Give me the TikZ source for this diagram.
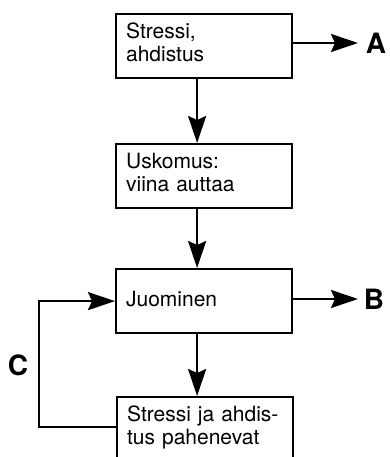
\documentclass[tikz,border=0pt]{standalone}
\usepackage{fontspec}
\setmainfont{TeX Gyre Heros}
\usetikzlibrary{arrows.meta}
\newcommand\boxfont{\fontsize{21pt}{23pt}\selectfont}
\newcommand\labfont{\fontsize{28pt}{30pt}\selectfont\bfseries}
\begin{document}
\begin{tikzpicture}[x=1pt,y=-1pt,
  box/.style={draw, line width=2.2pt, minimum width=176pt, minimum height=64pt,
    text width=156pt, inner xsep=10pt, inner ysep=0pt, align=left,
    text depth=31pt, font=\boxfont, anchor=north west},
  onebox/.style={box, text depth=5pt},
  conn/.style={line width=2.5pt, -{Stealth[length=27pt,width=18pt,inset=4pt]}},
  lab/.style={font=\labfont, inner sep=0pt}]
\useasboundingbox (0,0) rectangle (389,457);
\node[box] (b1) at (115,13) {Stressi,\\ahdistus};
\node[box] (b2) at (115,143) {Uskomus:\\viina auttaa};
\node[onebox] (b3) at (115,268) {Juominen};
\node[box] (b4) at (116,396) {Stressi ja ahdis-\\tus pahenevat};
\node[lab] (A) at (376,43) {A};
\node[lab] (B) at (374,299) {B};
\node[lab] (C) at (18,365) {C};
\coordinate (tA) at (358,43);
\coordinate (tB) at (358,299);
\coordinate (cl) at (39,360);
\draw[conn] ([xshift=-7pt]b1.south) -- ([xshift=-7pt]b2.north);
\draw[conn] ([xshift=-7pt]b2.south) -- ([xshift=-7pt]b3.north);
\draw[conn] ([xshift=-7pt]b3.south) -- ([xshift=-8pt]b4.north);
\draw[conn] (b1.east |- tA) -- (tA);
\draw[conn] (b3.east |- tB) -- (tB);
\draw[conn] ([yshift=2pt]b4.west) -| (cl) |- (b3.west);
\end{tikzpicture}
\end{document}
